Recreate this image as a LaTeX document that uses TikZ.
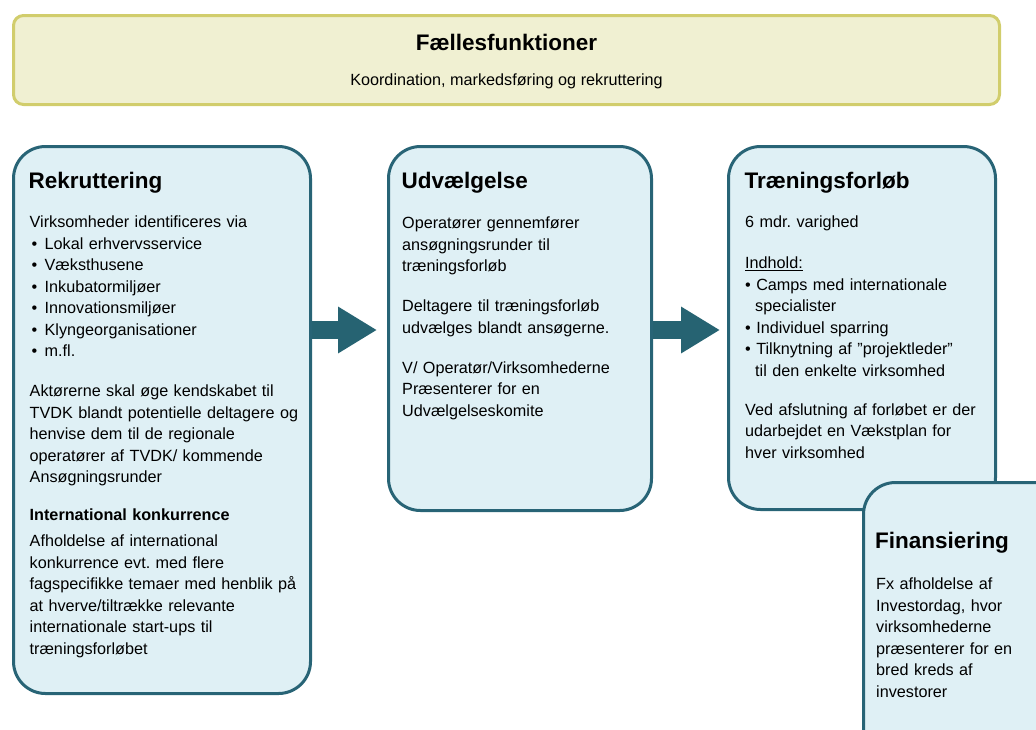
\documentclass[tikz,border=0pt]{standalone}
\usepackage{fontspec}
\setmainfont{Liberation Sans}
\usepackage{tikz}
\usetikzlibrary{arrows.meta, positioning, calc}
\usepackage{xcolor}
\definecolor{stepFill}{RGB}{223,240,245}
\definecolor{stepBorder}{RGB}{40,100,118}
\definecolor{flowTeal}{RGB}{38,99,114}
\definecolor{commonFill}{RGB}{240,240,210}
\definecolor{commonBorder}{RGB}{209,205,108}
\frenchspacing

\begin{document}
\begin{tikzpicture}[
    x=1pt, y=-1pt,
    commonbox/.style={rectangle, rounded corners=10pt, draw=commonBorder, fill=commonFill, line width=3pt, anchor=north west},
    stepbox/.style={rectangle, rounded corners=32pt, draw=stepBorder, fill=stepFill, line width=3pt, anchor=north west},
    heading/.style={font=\fontsize{22.5}{27}\selectfont\bfseries, anchor=base west, inner sep=0pt},
    body/.style={font=\fontsize{16.2}{21.5}\selectfont, anchor=base west, align=left, text width=280pt, inner sep=0pt},
    flow/.style={line width=18pt, draw=flowTeal, -{Triangle[length=39pt, width=44pt]}}
]
\useasboundingbox (0,0) rectangle (1036,729);
\clip (0,0) rectangle (1036,729);

% Common functions
\node[commonbox, minimum width=986pt, minimum height=89pt] (common) at (12,14) {};
\node[heading, anchor=base] (commontitle) at ([shift={(0,36.5)}]common.north) {Fællesfunktioner};
\node[body, anchor=base, text width=, align=center] (commontext) at ([shift={(0,71)}]common.north) {Koordination, markedsføring og rekruttering};

% Steps
\node[stepbox, minimum width=297pt, minimum height=547pt] (rek) at (12,145) {};
\node[stepbox, minimum width=263pt, minimum height=364pt] (udv) at (387,145) {};
\node[stepbox, minimum width=267pt, minimum height=363pt] (trn) at (727,145) {};
\node[stepbox, minimum width=250pt, minimum height=350pt] (fin) at (862,481) {};

% Rekruttering
\node[heading] (rektitle) at ([shift={(16.5,43.5)}]rek.north west) {Rekruttering};
\node[body] (rektext) at ([shift={(17.5,82.5)}]rek.north west) {%
Virksomheder identificeres via\\
\hspace*{2pt}\makebox[13pt][l]{\textbullet}Lokal erhvervsservice\\
\hspace*{2pt}\makebox[13pt][l]{\textbullet}Væksthusene\\
\hspace*{2pt}\makebox[13pt][l]{\textbullet}Inkubatormiljøer\\
\hspace*{2pt}\makebox[13pt][l]{\textbullet}Innovationsmiljøer\\
\hspace*{2pt}\makebox[13pt][l]{\textbullet}Klyngeorganisationer\\
\hspace*{2pt}\makebox[13pt][l]{\textbullet}m.fl.\\[18.5pt]
Aktørerne skal øge kendskabet til\\
TVDK blandt potentielle deltagere og\\
henvise dem til de regionale\\
operatører af TVDK/ kommende\\
Ansøgningsrunder\\[16.5pt]
\textbf{International konkurrence}\\[4.5pt]
Afholdelse af international\\
konkurrence evt. med flere\\
fagspecifikke temaer med henblik på\\
at hverve/tiltrække relevante\\
internationale start-ups til\\
træningsforløbet};

% Udvaelgelse
\node[heading] (udvtitle) at ([shift={(14.5,43)}]udv.north west) {Udvælgelse};
\node[body] (udvtext) at ([shift={(15,83.5)}]udv.north west) {%
Operatører gennemfører\\
ansøgningsrunder til\\
træningsforløb\\[18.5pt]
Deltagere til træningsforløb\\
udvælges blandt ansøgerne.\\[18.5pt]
V/ Operatør/Virksomhederne\\
Præsenterer for en\\
Udvælgelseskomite};

% Traeningsforloeb
\node[heading] (trntitle) at ([shift={(17.5,43.5)}]trn.north west) {Træningsforløb};
\node[body] (trntext) at ([shift={(18,82.5)}]trn.north west) {%
6 mdr. varighed\\[19.5pt]
\underline{Indhold:}\\
\textbullet\ Camps med internationale\\
\hspace*{10pt}specialister\\
\textbullet\ Individuel sparring\\
\textbullet\ Tilknytning af ”projektleder”\\
\hspace*{10pt}til den enkelte virksomhed\\[17.5pt]
Ved afslutning af forløbet er der\\
udarbejdet en Vækstplan for\\
hver virksomhed};

% Finansiering
\node[heading] (fintitle) at ([shift={(13,67.5)}]fin.north west) {Finansiering};
\node[body] (fintext) at ([shift={(14,108.5)}]fin.north west) {%
Fx afholdelse af\\
Investordag, hvor\\
virksomhederne\\
præsenterer for en\\
bred kreds af\\
investorer};

% Flow arrows
\coordinate (arrowrow) at (0,330);
\draw[flow, shorten >=10pt] (rek.east |- arrowrow) -- (udv.west |- arrowrow);
\draw[flow, shorten >=7pt] (udv.east |- arrowrow) -- (trn.west |- arrowrow);
\end{tikzpicture}
\end{document}
